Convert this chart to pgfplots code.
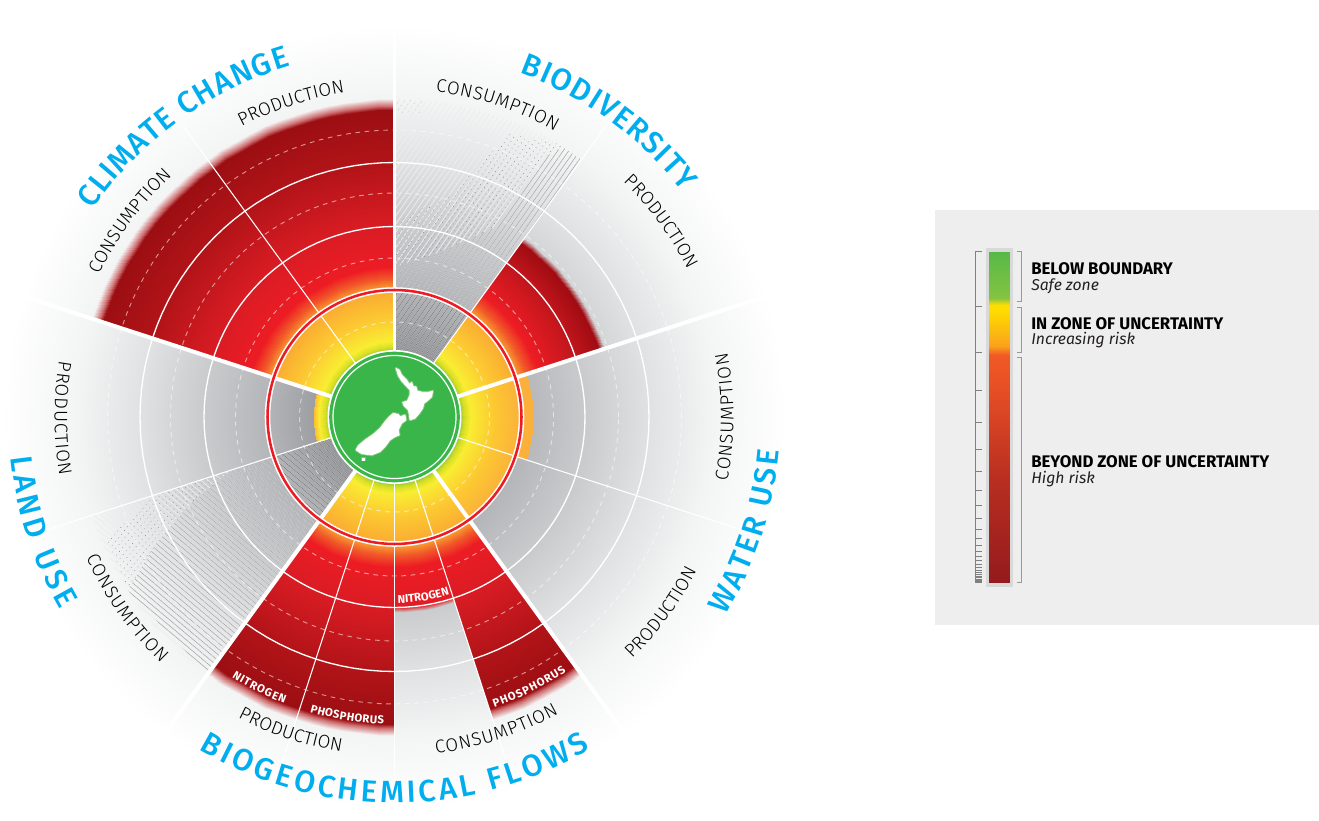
\documentclass[border=0pt]{standalone}
\usepackage{fontspec}
\setmainfont{Fira Sans}
\newfontfamily\lightf{Fira Sans Light}
\newfontfamily\medf{Fira Sans Medium}
\usepackage{pgfplots}
\pgfplotsset{compat=1.18}
\usetikzlibrary{decorations.text,patterns.meta}
\definecolor{ttl}{HTML}{00AEEF}
\definecolor{ink}{HTML}{231F20}
\definecolor{disc}{HTML}{39B54A}
\definecolor{halo}{HTML}{7CC576}
\definecolor{ringred}{HTML}{ED1C24}
\definecolor{hatchi}{RGB}{118,119,121}
\definecolor{hatchd}{RGB}{160,161,163}
\definecolor{hatchw}{RGB}{236,237,238}
\definecolor{hatchp}{RGB}{150,151,153}

% colormap positions are radii in px (meta range 0..500)
\pgfplotsset{
 colormap={bg}{rgb255(0)=(150,151,154) rgb255(65)=(150,151,154) rgb255(128)=(180,181,184) rgb255(190)=(201,202,204) rgb255(254)=(224,225,226) rgb255(318)=(243,244,244) rgb255(392)=(255,255,255) rgb255(500)=(255,255,255)},
 colormap={redfull}{rgb255(0)=(141,198,63) rgb255(65)=(141,198,63) rgb255(70)=(215,223,35) rgb255(76)=(249,237,50) rgb255(100)=(252,200,50) rgb255(127)=(250,170,50) rgb255(138)=(241,90,41) rgb255(150)=(237,28,36) rgb255(190)=(218,28,36) rgb255(254)=(178,20,24) rgb255(307)=(155,14,18) rgb255(311)=(205,110,112) rgb255(318)=(243,235,235) rgb255(500)=(243,235,235)},
 colormap={redbio}{rgb255(0)=(141,198,63) rgb255(65)=(141,198,63) rgb255(70)=(215,223,35) rgb255(76)=(249,237,50) rgb255(100)=(252,200,50) rgb255(127)=(250,170,50) rgb255(138)=(241,90,41) rgb255(150)=(237,28,36) rgb255(190)=(192,22,28) rgb255(215)=(160,12,18) rgb255(221)=(212,213,215) rgb255(500)=(212,213,215)},
 colormap={rednit}{rgb255(0)=(141,198,63) rgb255(65)=(141,198,63) rgb255(70)=(215,223,35) rgb255(76)=(249,237,50) rgb255(100)=(252,200,50) rgb255(127)=(250,170,50) rgb255(138)=(241,90,41) rgb255(150)=(237,28,36) rgb255(190)=(224,28,36) rgb255(195)=(200,201,203) rgb255(500)=(200,201,203)},
 colormap={yel}{rgb255(0)=(141,198,63) rgb255(65)=(141,198,63) rgb255(70)=(215,223,35) rgb255(76)=(249,237,50) rgb255(100)=(252,200,50) rgb255(127)=(251,176,59) rgb255(500)=(251,176,59)},
 colormap={low}{rgb255(0)=(141,198,63) rgb255(65)=(141,198,63) rgb255(70)=(215,223,35) rgb255(76)=(249,237,50) rgb255(81)=(251,190,50) rgb255(500)=(251,190,50)},
 colormap={key}{rgb255(0)=(85,184,72) rgb255(48)=(132,196,65) rgb255(55)=(255,221,0) rgb255(60)=(255,221,0) rgb255(96)=(250,162,27) rgb255(105)=(241,90,37) rgb255(143)=(229,77,38) rgb255(227)=(185,47,33) rgb255(333)=(149,26,29) rgb255(500)=(149,26,29)},
}

\newcommand{\arcpts}[3]{%
  \pgfmathtruncatemacro\nn{max(2,round(abs(#2-#1)/3))}%
  \foreach \i in {0,...,\nn}{%
    \pgfmathsetmacro\ang{#1+(#2-#1)/\nn*\i}%
    \xdef\pts{\pts (\ang,#3)}}}
\newcommand{\meshpts}[3]{%
  \pgfmathtruncatemacro\nn{max(2,round(abs(#2-#1)/3))}%
  \foreach \i in {0,...,\nn}{%
    \pgfmathsetmacro\ang{#1+(#2-#1)/\nn*\i}%
    \xdef\pts{\pts (\ang,#3) [#3]}}}
% a1 a2 r0 r1 colormap
\newcommand{\band}[5]{%
  \gdef\pts{}\meshpts{#1}{#2}{#3}\meshpts{#1}{#2}{#4}%
  \pgfmathtruncatemacro\cc{\nn+1}%
  \edef\tmp{\noexpand\addplot[data cs=polar,surf,shader=interp,colormap name=#5,mesh/rows=2,mesh/cols=\cc,point meta=explicit] coordinates {\pts};}\tmp}
\newcommand{\ring}[2]{%
  \gdef\pts{}\arcpts{0}{360}{#2}%
  \edef\tmp{\noexpand\addplot[data cs=polar,\unexpanded{#1}] coordinates {\pts};}\tmp}
\newcommand{\sector}[5]{%
  \gdef\pts{}\arcpts{#2}{#3}{#5}\arcpts{#3}{#2}{#4}%
  \edef\tmp{\noexpand\addplot[data cs=polar,\unexpanded{#1}] coordinates {\pts};}\tmp}
\newcommand{\poly}[2]{\edef\tmp{\noexpand\addplot[\unexpanded{#1}] coordinates {#2} -- cycle;}\tmp}
% a1 a2 baseline-radius format text
\newcommand{\arclab}[5]{%
  \path[decorate,decoration={text along path,text align={fit to path},text={|#4|#5}}]
    ([shift={(#1:#3*0.75pt)}]axis cs:0,0) arc[start angle=#1,end angle=#2,radius=#3*0.75pt];}

\newcommand{\ttlf}{\medf\fontsize{23}{23}\selectfont\color{ttl}}
\newcommand{\subf}{\lightf\fontsize{13.8}{14}\selectfont\color{black}}
\newcommand{\smlf}{\fontsize{8.5}{9}\selectfont\bfseries\color{white}}
\newcommand{\nzn}{(1.5,48.7)(4.8,47)(7.2,42)(12.2,37)(14.8,32.7)(17.2,34.7)(18.8,30.3)(21.5,30.3)(22.8,26)(28.2,24.7)(33.8,24.7)(38.2,26)(37.2,20.3)(33.8,17)(29.5,13.7)(28.2,8.7)(24.8,3.7)(20.5,-1.3)(15.5,-3)(14.8,2)(13.8,7)(9.5,11.3)(8.2,14.7)(12.8,16)(15.5,22)(15.5,27)(11.5,31.3)(7.2,36)(3.8,41.3)}
\newcommand{\nzs}{(-1.2,3.7)(3.8,2.7)(5.5,.3)(10.5,2)(11.5,-3)(7.2,-6.3)(3.8,-13)(4.8,-18)(.5,-19.7)(-4.5,-23)(-9.5,-29.7)(-14.5,-34.7)(-22.8,-38)(-32.8,-36.7)(-38.5,-33)(-36.2,-28.7)(-29.5,-23)(-21.2,-17.3)(-14.5,-11.3)(-9.5,-4.7)(-5.2,.3)}

\begin{document}
\begin{tikzpicture}
\begin{axis}[
  scale only axis, width=989.25pt, height=606.75pt,
  xmin=-394.5, xmax=924.5, ymin=-392, ymax=417,
  hide axis, clip=false, no markers,
  point meta min=0, point meta max=500,
]
\path (axis cs:-394.5,-392) (axis cs:924.5,417);
% grey backdrop
\band{0}{360}{60}{392}{bg}

% hatched sectors (no data)
\sector{draw=none,pattern={Lines[angle=55,distance=3.4pt,line width=0.6pt]},pattern color=hatchw}{54}{90}{65}{318}
\addplot[data cs=polar,draw=none,pattern={Lines[angle=55,distance=3.4pt,line width=0.35pt]},pattern color=hatchd] coordinates {(90,65)(90,150)(75,170)(62,215)(60,300)(58,318)(54,318)(54,65)};
\sector{draw=none,pattern={Lines[angle=55,distance=3.4pt,line width=0.35pt]},pattern color=hatchi}{54}{90}{65}{127}
\addplot[data cs=polar,draw=none,pattern={Dots[angle=55,distance=3.6pt,radius=0.4pt]},pattern color=hatchp] coordinates {(90,150)(90,195)(76,228)(68,305)(60,318)(58,318)(60,300)(62,215)(75,170)};
\addplot[data cs=polar,draw=none,pattern={Dots[angle=55,distance=3.6pt,radius=0.35pt]},pattern color=hatchp!60!white] coordinates {(90,304)(90,318)(85,318)(85,304)};

\sector{draw=none,pattern={Lines[angle=-40,distance=3.4pt,line width=0.6pt]},pattern color=hatchw}{198}{234}{65}{318}
\addplot[data cs=polar,draw=none,pattern={Lines[angle=-40,distance=3.4pt,line width=0.35pt]},pattern color=hatchd] coordinates {(198,65)(198,170)(203,222)(208,270)(213,318)(234,318)(234,65)};
\sector{draw=none,pattern={Lines[angle=-40,distance=3.4pt,line width=0.35pt]},pattern color=hatchi}{198}{234}{65}{127}
\addplot[data cs=polar,draw=none,pattern={Dots[angle=-40,distance=3.6pt,radius=0.4pt]},pattern color=hatchp] coordinates {(198,170)(198,250)(203,313)(213,318)(208,270)(203,222)};

% boundary values: start, end, outer radius
\band{90}{162}{60}{318}{redfull}
\band{18}{54}{60}{221}{redbio}
\band{-18}{18}{60}{138}{yel}
\band{-54}{-18}{60}{125}{yel}
\band{-126}{-90}{60}{318}{redfull}
\band{-90}{-72}{60}{195}{rednit}
\band{-72}{-54}{60}{318}{redfull}
\band{162}{198}{60}{81}{low}

% scale rings
\ring{white,line width=1pt}{190.5}
\ring{white,line width=1pt}{254.5}
\ring{white,opacity=.55,line width=.7pt,dash pattern=on 3.5pt off 3.5pt}{95}
\ring{white,opacity=.55,line width=.7pt,dash pattern=on 3.5pt off 3.5pt}{159}
\ring{white,opacity=.55,line width=.7pt,dash pattern=on 3.5pt off 3.5pt}{224}
\ring{white,opacity=.55,line width=.7pt,dash pattern=on 3.5pt off 3.5pt}{287}

% dividers
\foreach \a in {18,162,-54,-126}{\edef\tmp{\noexpand\addplot[data cs=polar,white,line width=3pt] coordinates {(\a,60)(\a,392)};}\tmp}
\addplot[data cs=polar,white,line width=2.6pt] coordinates {(90,60)(90,392)};
\foreach \a in {54,126,-18,198,-72,-108,-90}{\edef\tmp{\noexpand\addplot[data cs=polar,white,line width=.8pt] coordinates {(\a,60)(\a,364)};}\tmp}

% boundary ring and centre
\ring{white,line width=4.2pt}{127}
\ring{ringred,line width=1.9pt}{127}
\sector{fill=white,draw=none}{0}{360}{0}{67}
\sector{fill=disc,draw=none}{0}{360}{0}{65.3}
\ring{white,line width=.9pt}{61.5}

% New Zealand
\poly{fill=halo,draw=halo,line width=2pt,line join=round}{\nzn}
\poly{fill=halo,draw=halo,line width=2pt,line join=round}{\nzs}
\poly{fill=halo,draw=halo,line width=1pt}{(-33,-41)(-29.5,-41)(-29.5,-43.5)(-33,-43.5)}
\poly{fill=white,draw=white,line width=.5pt,line join=round}{\nzn}
\poly{fill=white,draw=white,line width=.5pt,line join=round}{\nzs}
\poly{fill=white,draw=none}{(-33,-41)(-29.5,-41)(-29.5,-43.5)(-33,-43.5)}

% key panel
\addplot[fill=black!6.5,draw=none] coordinates {(540.5,207)(924.5,207)(924.5,-208)(540.5,-208)} -- cycle;
\addplot[fill=black!15,draw=none] coordinates {(591.2,169.3)(618.2,169.3)(618.2,-169.7)(591.2,-169.7)} -- cycle;
\addplot[surf,shader=interp,colormap name=key,mesh/rows=2,mesh/cols=2,point meta=explicit] coordinates {(594.8,165.3) [2] (614.5,165.3) [2] (594.8,-165.7) [333] (614.5,-165.7) [333]};
\addplot[black!50,line width=.7pt] coordinates {(587.5,165.3)(580.5,165.3)(580.5,-165.7)(587.5,-165.7)};
\foreach \y in {110.3,64.7,26.3,-5.7,-32.3,-54.7,-73,-88.3,-101.3,-112,-121,-128.7,-134,-139.7,-143.7,-147.3,-150.7,-153,-155.3,-157.3,-159,-160.7,-162,-163,-164}{\edef\tmp{\noexpand\addplot[black!50,line width=.6pt] coordinates {(580.5,\y)(587.5,\y)};}\tmp}
\addplot[black!40,line width=.7pt] coordinates {(622.5,165.3)(627.2,165.3)(627.2,115.3)(622.5,115.3)};
\addplot[black!40,line width=.7pt] coordinates {(622.5,109.3)(627.2,109.3)(627.2,64.7)(622.5,64.7)};
\addplot[black!40,line width=.7pt] coordinates {(622.5,59.7)(627.2,59.7)(627.2,-165.3)(622.5,-165.3)};
\node[anchor=base west,inner sep=0pt,font=\fontsize{12.6}{13}\selectfont\bfseries,text=black] at (axis cs:636.5,142.4) {BELOW BOUNDARY};
\node[anchor=base west,inner sep=0pt,font=\fontsize{11.8}{13}\selectfont\itshape,text=ink] at (axis cs:636.5,127) {Safe zone};
\node[anchor=base west,inner sep=0pt,font=\fontsize{12.6}{13}\selectfont\bfseries,text=black] at (axis cs:636.5,87.4) {IN ZONE OF UNCERTAINTY};
\node[anchor=base west,inner sep=0pt,font=\fontsize{11.8}{13}\selectfont\itshape,text=ink] at (axis cs:636.5,72.5) {Increasing risk};
\node[anchor=base west,inner sep=0pt,font=\fontsize{12.6}{13}\selectfont\bfseries,text=black] at (axis cs:636.5,-50.6) {BEYOND ZONE OF UNCERTAINTY};
\node[anchor=base west,inner sep=0pt,font=\fontsize{11.8}{13}\selectfont\itshape,text=ink] at (axis cs:636.5,-66) {High risk};

% titles
\arclab{145.5}{106.5}{366}{\ttlf}{CLIMATE CHANGE}
\arclab{70}{38}{366}{\ttlf}{BIODIVERSITY}
\arclab{-31}{-5}{386}{\ttlf}{WATER USE}
\arclab{-120.5}{-59.5}{386}{\ttlf}{BIOGEOCHEMICAL FLOWS}
\arclab{186}{210}{386}{\ttlf}{LAND USE}
% sub labels
\arclab{154.3}{132.7}{328}{\subf}{CONSUMPTION}
\arclab{117.8}{98.7}{328}{\subf}{PRODUCTION}
\arclab{82.8}{60.7}{328}{\subf}{CONSUMPTION}
\arclab{45.8}{26.7}{328}{\subf}{PRODUCTION}
\arclab{-11}{11}{339}{\subf}{CONSUMPTION}
\arclab{-45.5}{-27}{339}{\subf}{PRODUCTION}
\arclab{-117.5}{-99}{339}{\subf}{PRODUCTION}
\arclab{-83}{-61}{339}{\subf}{CONSUMPTION}
\arclab{170.5}{190}{340}{\subf}{PRODUCTION}
\arclab{204.5}{226.5}{339}{\subf}{CONSUMPTION}
% small labels
\arclab{-89}{-73.5}{186}{\smlf}{NITROGEN}
\arclab{-71}{-56}{307}{\smlf}{PHOSPHORUS}
\arclab{-122}{-111}{307}{\smlf}{NITROGEN}
\arclab{-106}{-92}{307}{\smlf}{PHOSPHORUS}
\end{axis}
\end{tikzpicture}
\end{document}
